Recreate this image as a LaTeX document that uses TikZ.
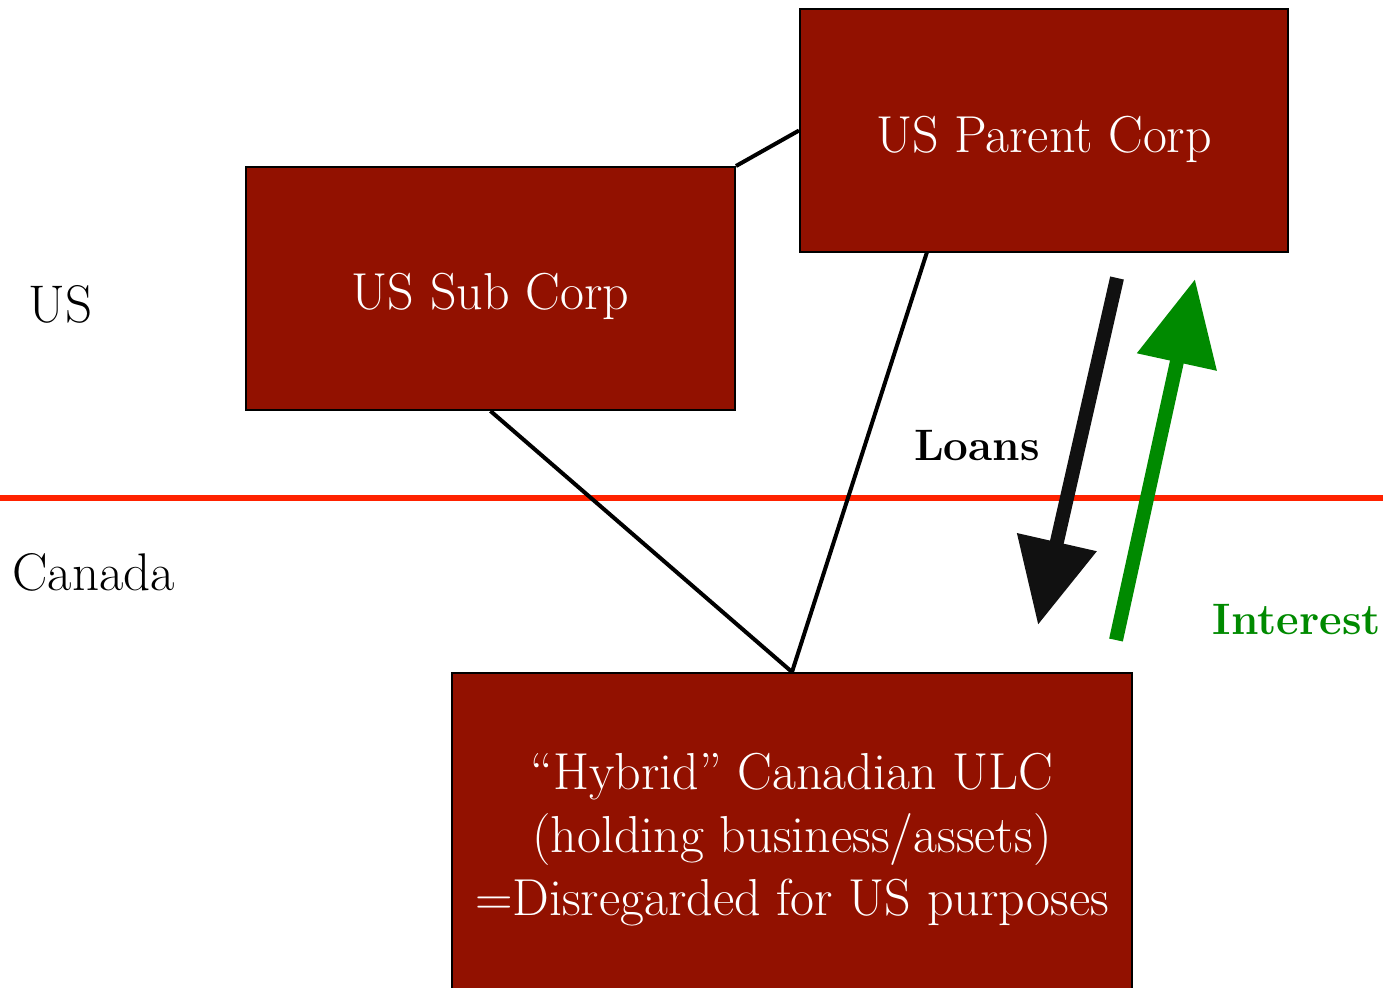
\documentclass[tikz,border=0pt]{standalone}
\usepackage{fontspec}
\usetikzlibrary{arrows.meta,calc}
\definecolor{boxred}{HTML}{921100}
\definecolor{linered}{HTML}{FF2200}
\definecolor{arrgreen}{HTML}{008A00}
\definecolor{arrblack}{HTML}{111111}
\begin{document}
\begin{tikzpicture}[x=0.5pt,y=-0.5pt,
  corpbox/.style={draw=black,line width=1pt,fill=boxred,inner sep=0pt},
  boxtext/.style={text=white,inner sep=0pt,align=center,font=\fontsize{26}{31.5}\selectfont},
  link/.style={draw=black,line width=2pt},
  flow/.style={line width=7pt,-{Triangle[length=42.5pt,width=39pt]}},
  lbl/.style={inner sep=0pt,font=\fontsize{26.5}{30}\selectfont},
  blbl/.style={inner sep=0pt,font=\fontsize{22}{26}\selectfont\bfseries}]
\useasboundingbox (0,0) rectangle (1383,987);
\clip (0,0) rectangle (1383,987);
\draw[linered,line width=3pt] (0,498) -- (1383,498);
\node[corpbox,minimum width=244pt,minimum height=121.5pt] (parent) at (1044,130.5) {};
\node[corpbox,minimum width=244.5pt,minimum height=121.5pt] (sub) at (490.5,288.5) {};
\node[corpbox,minimum width=340pt,minimum height=163.5pt] (ulc) at (792,836.5) {};
\node[boxtext] (parentt) at ($(parent)+(0,9)$) {US Parent Corp};
\node[boxtext] (subt) at ($(sub)+(0,8)$) {US Sub Corp};
\node[boxtext] (ulct) at ($(ulc)+(0,3)$) {“Hybrid” Canadian ULC\\(holding business/assets)\\=Disregarded for US purposes};
\coordinate (pfoot) at (927,252);
\draw[link] (sub.north east) -- (parent.west);
\draw[link] (sub.south) -- (ulc.north);
\draw[link] (pfoot) -- (ulc.north);
\coordinate (ls) at (1117,278);
\coordinate (le) at (1038,625);
\coordinate (is) at (1116,640);
\coordinate (ie) at (1195,279);
\draw[flow,arrblack] (ls) -- (le);
\draw[flow,arrgreen] (is) -- (ie);
\node[lbl,anchor=west] (us) at (28,304) {US};
\node[lbl,anchor=west] (ca) at (12,572) {Canada};
\node[blbl] (loans) at (977,446) {Loans};
\node[blbl,text=arrgreen] (int) at (1297,620) {Interest};
\end{tikzpicture}
\end{document}
